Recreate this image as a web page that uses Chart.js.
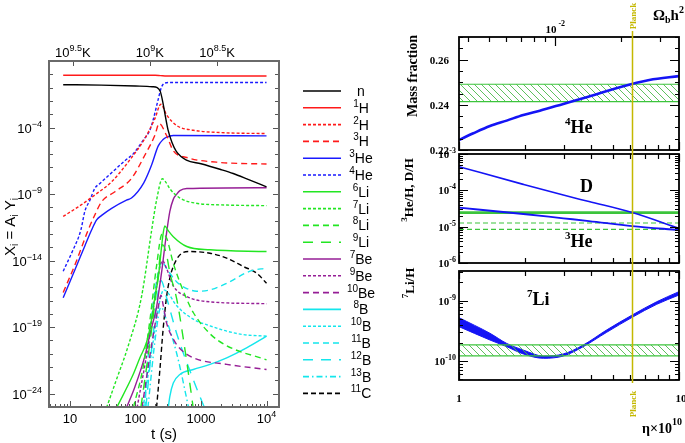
<!DOCTYPE html>
<html><head><meta charset="utf-8">
<title>BBN abundances</title>
<script src="https://cdn.jsdelivr.net/npm/chart.js@4/dist/chart.umd.min.js"></script>
<style>
html,body{margin:0;padding:0;background:#fff;overflow:hidden;}
#wrap{position:relative;width:685px;height:443px;background:#fff;}
#wrap canvas{position:absolute;top:0;}
</style></head>
<body><div id="wrap">
<canvas id="cL" width="390" height="443" style="left:0px;width:390px;height:443px"></canvas>
<canvas id="c1" width="295" height="443" style="left:390px;width:295px;height:443px"></canvas>
<canvas id="c2" width="295" height="443" style="left:390px;width:295px;height:443px"></canvas>
<canvas id="c3" width="295" height="443" style="left:390px;width:295px;height:443px"></canvas>
</div>
<script>
// ===== Left panel: time t (s) and mass fraction X_i =====
const nT   = [7.9, 30, 100, 180, 215, 240, 262, 285, 315, 360, 420, 600, 1000, 2000, 3100, 5000, 10000];
const nX   = [0.166, 0.155, 0.132, 0.117, 0.1, 0.05, 7.9e-3, 7.9e-4, 6.3e-5, 7.9e-6, 1.6e-6, 3.5e-7, 1.9e-7, 7e-8, 3.5e-8, 1.4e-8, 3.5e-9];
const h1T  = [7.9, 200, 240, 300, 10000];
const h1X  = [0.85, 0.84, 0.80, 0.75, 0.75];
const h2T  = [7.9, 13.4, 24, 43.3, 77.7, 139, 198, 245, 299, 427, 763, 2470, 10000];
const h2X  = [2.1e-11, 1.1e-10, 8.5e-10, 8.5e-9, 2.6e-7, 1.5e-5, 4.7e-4, 5.6e-3, 8.9e-4, 1.4e-4, 6.3e-5, 4.0e-5, 3.55e-5];
const h3T  = [7.9, 12.2, 19, 24, 30.5, 48.7, 87, 139, 198, 230, 299, 378, 607, 1720, 10000];
const h3X  = [4e-17, 6.3e-15, 2e-12, 2.7e-11, 2.7e-10, 1.5e-9, 1.5e-8, 8.3e-7, 2.6e-5, 2e-4, 2.5e-5, 1.8e-6, 5.6e-7, 2.5e-7, 1.8e-7];
const he3T = [7.9, 11.9, 16.9, 21.4, 25.6, 30.5, 43.3, 73, 87, 134, 177, 222, 264, 299, 378, 10000];
const he3X = [1.6e-17, 2e-15, 1.26e-13, 2e-12, 1.15e-11, 2.5e-11, 8.5e-11, 3.5e-10, 5e-10, 7e-9, 1.6e-7, 4e-6, 1.26e-5, 1.9e-5, 2.5e-5, 2.35e-5];
const he4T = [7.9, 10.7, 14.7, 16.9, 20.2, 24, 28.7, 43.3, 69, 93, 131, 166, 187, 222, 250, 281, 335, 10000];
const he4X = [1.6e-15, 4e-14, 2e-12, 5e-11, 3.5e-10, 2.7e-9, 6.3e-9, 4e-8, 3.2e-7, 1.1e-6, 1.1e-5, 6.3e-5, 4e-4, 1.26e-2, 0.11, 0.22, 0.245, 0.245];
const li6T = [51.7, 91.5, 117, 148.5, 177, 205, 222, 245, 264, 281, 311, 378, 607, 1370, 10000];
const li6X = [9e-26, 2.5e-23, 5e-22, 8e-21, 4e-19, 5e-17, 4e-16, 4e-14, 1e-12, 4e-12, 2e-12, 6.3e-13, 1.15e-13, 6.5e-14, 4.8e-14];
const li7T = [36.3, 50, 77.7, 124, 177, 210, 258, 290, 335, 477, 820, 2470, 10000];
const li7X = [9e-26, 8e-24, 4e-21, 2e-17, 2e-12, 3.5e-10, 1.4e-8, 8e-9, 2.5e-9, 5e-10, 2.1e-10, 1.5e-10, 1.35e-10];
const li8T = [93, 131, 166, 210, 255, 299, 378, 607, 763, 1370, 2470, 10000];
const li8X = [9e-26, 1e-22, 3.2e-19, 4e-15, 1e-12, 5e-13, 6.3e-15, 1.26e-17, 1.26e-18, 3.2e-20, 4e-21, 3.5e-22];
const li9T = [121, 166, 205, 260, 299, 335, 427, 550, 720, 806];
const li9X = [9e-26, 6.3e-21, 2.5e-17, 1.6e-13, 2.5e-14, 1.26e-15, 1.26e-17, 6.3e-21, 6.3e-25, 1e-26];
const be7T = [73, 98, 139, 169, 210, 222, 255, 281, 299, 335, 378, 427, 477, 607, 10000];
const be7X = [9e-26, 3.2e-24, 6.3e-22, 4e-20, 3.2e-18, 2e-17, 2.5e-15, 1.26e-13, 1.26e-12, 5e-11, 4e-10, 1e-9, 1.8e-9, 2.6e-9, 3e-9];
const be9T = [106, 155, 205, 258, 299, 378, 607, 1370, 10000];
const be9X = [9e-26, 3.2e-21, 5e-17, 1e-14, 2.5e-15, 1.26e-16, 2e-17, 8e-18, 5.8e-18];
const be10T = [126, 181, 229, 245, 264, 299, 378, 477, 763, 2470, 10000];
const be10X = [9e-26, 1e-20, 6.3e-18, 2.5e-17, 5e-18, 2e-19, 1.26e-20, 2.5e-21, 5e-22, 1.6e-22, 6.6e-23];
const b8T  = [316, 335, 378, 477, 763, 1370, 2470, 4970, 10000];
const b8X  = [8e-26, 6.3e-25, 6.3e-24, 2.8e-23, 6.6e-23, 1.6e-22, 5e-22, 2.8e-21, 2.1e-20];
const b10T = [131, 181, 236, 270, 299, 427, 763, 1370, 2470, 4430, 10000];
const b10X = [9e-26, 3.2e-21, 1e-17, 6.3e-17, 5e-17, 4e-18, 4e-19, 1.26e-19, 5e-20, 2.75e-20, 2.1e-20];
const b11T = [139, 166, 211, 255, 299, 427, 607, 860, 1370, 2470, 5600, 10000];
const b11X = [9e-26, 3.2e-20, 3.2e-16, 8e-15, 2.5e-15, 2.5e-16, 8e-17, 5e-17, 6.3e-17, 2e-16, 1.6e-15, 2.75e-15];
const b12T = [144, 192, 245, 299, 427, 770, 1230];
const b12X = [9e-26, 1e-19, 3.2e-16, 1.6e-17, 3.2e-20, 1e-23, 3.2e-26];
const b13T = [155, 205, 245, 299, 427, 677];
const b13X = [9e-26, 3.2e-20, 3.2e-18, 3.2e-19, 1e-21, 3.2e-26];
const c11T = [210, 236, 264, 299, 335, 378, 477, 677, 1370, 2470, 4430, 7060, 10000];
const c11X = [9e-26, 6.3e-23, 6.3e-20, 2e-17, 5e-16, 3.6e-15, 2.7e-14, 4.8e-14, 3.6e-14, 1.55e-14, 3.6e-15, 1.15e-15, 2e-16];

// axis tick labels (left panel)
const yLabelExp   = [-4, -9, -14, -19, -24];
const xLabelVals  = [10, 100, 1000, 10000];
const tempTickT   = [11.1, 166, 1760];
const tempTickExp = ['9.5', '9', '8.5'];

// ===== Right panels: eta x 1e10 =====
const etaHe  = [1, 1.162, 1.383, 1.647, 1.96, 2.33, 2.98, 3.87, 5.33, 7.33, 10];
const ypHe4  = [0.2244, 0.2274, 0.2306, 0.2330, 0.2355, 0.2374, 0.2404, 0.2436, 0.2477, 0.2510, 0.2527];
const ypObs  = [0.2414, 0.2491];
const etaDH  = [1, 1.96, 2.98, 3.9, 6.13, 10];
const dOverH = [4.48e-4, 1.46e-4, 7.4e-5, 4.9e-5, 2.45e-5, 9e-6];
const he3OverH = [3.34e-5, 2.23e-5, 1.7e-5, 1.43e-5, 1.04e-5, 8.1e-6];
const dhObs  = 2.43e-5;
const he3Obs = [8.4e-6, 1.26e-5];
const etaLi  = [1, 1.383, 1.647, 1.96, 2.42, 2.98, 3.67, 4.69, 6.13, 7.92, 10];
const liUpper = [5.23e-10, 2.88e-10, 1.96e-10, 1.52e-10, 1.21e-10, 1.31e-10, 1.84e-10, 3.27e-10, 5.79e-10, 9.6e-10, 1.41e-9];
const liLower = [3.71e-10, 2.23e-10, 1.73e-10, 1.31e-10, 1.11e-10, 1.21e-10, 1.73e-10, 2.99e-10, 5.3e-10, 8.7e-10, 1.24e-9];
const liObs  = [1.22e-10, 1.85e-10];
const planckEta = 6.1;

// ===== styles =====
const SANS = "'Liberation Sans', Arial, sans-serif";
const SERIF = "'Liberation Serif', 'Times New Roman', serif";
const RED = '#ff1a1a', BLUE = '#1a1aff', GREEN = '#22e622', PURPLE = '#961e96', CYAN = '#14e6ec', BLACK = '#000000';
const SOLID = [], FINE = [3, 2], MED = [6, 4], LONG = [10, 8], DASHDOT = [6, 3, 1.5, 3], CDASH = [5, 3];
const BLUE2 = '#1414f5', GBAND = '#3cc43c', OLIVE = '#c4b800';

const series = [
  {base:'n',  sup:'',   t:nT,   v:nX,   color:BLACK,  dash:SOLID},
  {base:'H',  sup:'1',  t:h1T,  v:h1X,  color:RED,    dash:SOLID},
  {base:'H',  sup:'2',  t:h2T,  v:h2X,  color:RED,    dash:FINE},
  {base:'H',  sup:'3',  t:h3T,  v:h3X,  color:RED,    dash:MED},
  {base:'He', sup:'3',  t:he3T, v:he3X, color:BLUE,   dash:SOLID},
  {base:'He', sup:'4',  t:he4T, v:he4X, color:BLUE,   dash:FINE},
  {base:'Li', sup:'6',  t:li6T, v:li6X, color:GREEN,  dash:SOLID},
  {base:'Li', sup:'7',  t:li7T, v:li7X, color:GREEN,  dash:FINE},
  {base:'Li', sup:'8',  t:li8T, v:li8X, color:GREEN,  dash:MED},
  {base:'Li', sup:'9',  t:li9T, v:li9X, color:GREEN,  dash:LONG},
  {base:'Be', sup:'7',  t:be7T, v:be7X, color:PURPLE, dash:SOLID},
  {base:'Be', sup:'9',  t:be9T, v:be9X, color:PURPLE, dash:FINE},
  {base:'Be', sup:'10', t:be10T,v:be10X,color:PURPLE, dash:MED},
  {base:'B',  sup:'8',  t:b8T,  v:b8X,  color:CYAN,   dash:SOLID},
  {base:'B',  sup:'10', t:b10T, v:b10X, color:CYAN,   dash:FINE},
  {base:'B',  sup:'11', t:b11T, v:b11X, color:CYAN,   dash:MED},
  {base:'B',  sup:'12', t:b12T, v:b12X, color:CYAN,   dash:LONG},
  {base:'B',  sup:'13', t:b13T, v:b13X, color:CYAN,   dash:DASHDOT},
  {base:'C',  sup:'11', t:c11T, v:c11X, color:BLACK,  dash:CDASH}
];

// ===== helpers =====
function rich(ctx, x, y, parts, align, color) {
  ctx.save();
  ctx.fillStyle = color || '#000'; ctx.textBaseline = 'alphabetic'; ctx.textAlign = 'left';
  let w = 0;
  parts.forEach(p => { ctx.font = p.f; w += ctx.measureText(p.t).width + (p.g || 0); });
  let cx = align === 'center' ? x - w / 2 : (align === 'right' ? x - w : x);
  parts.forEach(p => { ctx.font = p.f; ctx.fillText(p.t, cx, y + (p.dy || 0)); cx += ctx.measureText(p.t).width + (p.g || 0); });
  ctx.restore();
}
function richRot(ctx, cx, cy, parts, color) {
  ctx.save(); ctx.translate(cx, cy); ctx.rotate(-Math.PI / 2);
  rich(ctx, 0, 0, parts, 'center', color); ctx.restore();
}
function hatch(color) {
  const c = document.createElement('canvas'); c.width = 7; c.height = 7;
  const g = c.getContext('2d'); g.strokeStyle = color; g.lineWidth = 0.9;
  g.beginPath(); g.moveTo(-1, -1); g.lineTo(8, 8); g.moveTo(-1, 6); g.lineTo(1, 8); g.moveTo(6, -1); g.lineTo(8, 1); g.stroke();
  return g.createPattern(c, 'repeat');
}
function pts(xs, ys) { return xs.map((x, i) => ({x: x, y: ys[i]})); }
function hline(x0, x1, y) { return [{x: x0, y: y}, {x: x1, y: y}]; }

// ===== left chart =====
const leftDecor = {
  id: 'leftDecor',
  afterDraw(chart) {
    const ctx = chart.ctx, a = chart.chartArea, xs = chart.scales.x, ys = chart.scales.y;
    ctx.save();
    ctx.strokeStyle = '#555'; ctx.lineWidth = 1; ctx.beginPath();
    for (let e = -25; e <= 1; e++) {
      const py = Math.round(ys.getPixelForValue(Math.pow(10, e))) + 0.5;
      const len = yLabelExp.includes(e) ? 6 : 4;
      ctx.moveTo(a.left, py); ctx.lineTo(a.left + len, py);
      ctx.moveTo(a.right, py); ctx.lineTo(a.right - len, py);
    }
    for (let d = 0; d <= 4; d++) for (let m = 1; m < 10; m++) {
      const v = m * Math.pow(10, d);
      if (v < xs.min || v > xs.max) continue;
      const px = Math.round(xs.getPixelForValue(v)) + 0.5;
      const len = m === 1 ? 6 : 3;
      ctx.moveTo(px, a.bottom); ctx.lineTo(px, a.bottom - len);
    }
    tempTickT.forEach(t => { const px = Math.round(xs.getPixelForValue(t)) + 0.5; ctx.moveTo(px, a.top); ctx.lineTo(px, a.top + 5); });
    ctx.stroke();
    ctx.strokeStyle = '#6a6a6a'; ctx.lineWidth = 2;
    ctx.strokeRect(a.left, a.top, a.right - a.left, a.bottom - a.top);
    // y labels
    yLabelExp.forEach(e => {
      const py = ys.getPixelForValue(Math.pow(10, e));
      rich(ctx, 42, py + 5, [{t:'10', f:'13px ' + SANS}, {t:'\u2212' + (-e), f:'9px ' + SANS, dy:-6}], 'right');
    });
    // x labels
    xLabelVals.forEach(v => {
      const px = xs.getPixelForValue(v);
      const parts = v === 10000 ? [{t:'10', f:'13px ' + SANS}, {t:'4', f:'9px ' + SANS, dy:-6}] : [{t:String(v), f:'13px ' + SANS}];
      rich(ctx, px, 423, parts, 'center');
    });
    // top temperature labels
    tempTickT.forEach((t, i) => {
      const px = xs.getPixelForValue(t);
      rich(ctx, px, 57, [{t:'10', f:'13px ' + SANS}, {t:tempTickExp[i], f:'9px ' + SANS, dy:-6}, {t:'K', f:'13px ' + SANS}], 'center');
    });
    rich(ctx, 164, 439, [{t:'t (s)', f:'15px ' + SANS}], 'center');
    richRot(ctx, 15, 227, [{t:'X', f:'15px ' + SANS}, {t:'i', f:'10px ' + SANS, dy:3}, {t:' = A', f:'15px ' + SANS}, {t:'i', f:'10px ' + SANS, dy:3}, {t:' Y', f:'15px ' + SANS}, {t:'i', f:'10px ' + SANS, dy:3}]);
    // legend
    series.forEach((s, i) => {
      const y = 91 + i * 16.8;
      ctx.save(); ctx.strokeStyle = s.color; ctx.lineWidth = 1.6; ctx.setLineDash(s.dash);
      ctx.beginPath(); ctx.moveTo(303, y); ctx.lineTo(341, y); ctx.stroke(); ctx.restore();
      const parts = s.sup ? [{t:s.sup, f:'10px ' + SANS, dy:-6}, {t:s.base, f:'14px ' + SANS}] : [{t:s.base, f:'14px ' + SANS}];
      rich(ctx, 361, y + 5, parts, 'center');
    });
    ctx.restore();
  }
};

new Chart(document.getElementById('cL'), {
  type: 'line',
  data: { datasets: series.map(s => ({
    label: s.sup + s.base, data: pts(s.t, s.v), borderColor: s.color, borderDash: s.dash,
    borderWidth: 1.4, pointRadius: 0, fill: false, cubicInterpolationMode: 'monotone'
  })) },
  options: {
    responsive: false, animation: false, devicePixelRatio: 1,
    layout: { padding: { left: 49, right: 111, top: 61, bottom: 36 } },
    plugins: { legend: { display: false }, tooltip: { enabled: false } },
    scales: {
      x: { type: 'logarithmic', min: 4.8, max: 15500, display: false },
      y: { type: 'logarithmic', min: 1e-25, max: 10, display: false }
    }
  },
  plugins: [leftDecor]
});

// ===== right panels =====
const RX = px => px - 390;
const etaTicks = [1, 2, 3, 4, 5, 6, 7, 8, 9, 10];
function panelFrame(chart, opt) {
  const ctx = chart.ctx, a = chart.chartArea, xs = chart.scales.x, ys = chart.scales.y;
  ctx.save(); ctx.strokeStyle = '#000'; ctx.lineWidth = 1.2; ctx.beginPath();
  etaTicks.forEach(v => {
    const px = Math.round(xs.getPixelForValue(v)) + 0.5; const len = (v === 1 || v === 10) ? 8 : 5;
    ctx.moveTo(px, a.bottom); ctx.lineTo(px, a.bottom - len);
    if (opt.topEta) { ctx.moveTo(px, a.top); ctx.lineTo(px, a.top + len); }
  });
  if (opt.log) {
    const e0 = Math.floor(Math.log10(ys.min)), e1 = Math.ceil(Math.log10(ys.max));
    for (let e = e0; e <= e1; e++) for (let m = 1; m < 10; m++) {
      const v = m * Math.pow(10, e); if (v < ys.min * 0.999 || v > ys.max * 1.001) continue;
      const py = Math.round(ys.getPixelForValue(v)) + 0.5; const len = m === 1 ? 9 : 4;
      ctx.moveTo(a.left, py); ctx.lineTo(a.left + len, py); ctx.moveTo(a.right, py); ctx.lineTo(a.right - len, py);
    }
  } else {
    for (let k = 44; k <= 54; k++) {
      const v = k * 0.005; const py = Math.round(ys.getPixelForValue(v)) + 0.5; const len = k % 4 === 0 ? 9 : 4;
      ctx.moveTo(a.left, py); ctx.lineTo(a.left + len, py); ctx.moveTo(a.right, py); ctx.lineTo(a.right - len, py);
    }
  }
  if (opt.omega) {
    const x2 = chart.scales.x2;
    [0.004, 0.005, 0.006, 0.007, 0.008, 0.009, 0.01, 0.02, 0.03].forEach(v => {
      const px = Math.round(x2.getPixelForValue(v)) + 0.5; const len = v === 0.01 ? 9 : 5;
      ctx.moveTo(px, a.top); ctx.lineTo(px, a.top + len);
    });
  }
  ctx.stroke();
  ctx.lineWidth = 1.8; ctx.strokeRect(a.left, a.top, a.right - a.left, a.bottom - a.top);
  ctx.restore();
}
const B11 = 'bold 11px ' + SERIF, B8 = 'bold 8px ' + SERIF;
function expLabel(ctx, y, e) {
  rich(ctx, RX(456), y + 4, [{t:'10', f:B11}, {t:'-' + (-e), f:B8, dy:-5, g:0}], 'right');
}
function baseOpts(padTop, padBottom, yScale, extraScales) {
  const sc = Object.assign({ x: { type: 'logarithmic', min: 1, max: 10, display: false }, y: yScale }, extraScales || {});
  return {
    responsive: false, animation: false, devicePixelRatio: 1,
    layout: { padding: { left: 69, right: 6, top: padTop, bottom: padBottom } },
    plugins: { legend: { display: false }, tooltip: { enabled: false } },
    elements: { point: { radius: 0 } },
    scales: sc
  };
}
const hatchFill = hatch('#4cba4c');

// panel 1: 4He
new Chart(document.getElementById('c1'), {
  type: 'line',
  data: { datasets: [
    { data: pts(etaHe, ypHe4), borderColor: BLUE2, borderWidth: 2.6, fill: false, cubicInterpolationMode: 'monotone', xAxisID: 'x', yAxisID: 'y' },
    { data: hline(1, 10, ypObs[0]), borderColor: GBAND, borderWidth: 1.2, fill: false, xAxisID: 'x', yAxisID: 'y' },
    { data: hline(1, 10, ypObs[1]), borderColor: GBAND, borderWidth: 1.2, fill: '-1', backgroundColor: hatchFill, xAxisID: 'x', yAxisID: 'y' }
  ] },
  options: baseOpts(37, 293, { type: 'linear', min: 0.22, max: 0.27, display: false },
    { x2: { type: 'logarithmic', position: 'top', min: 1 / 273.9, max: 10 / 273.9, display: false } }),
  plugins: [{ id: 'p1', afterDraw(chart) {
    panelFrame(chart, { log: false, omega: true });
    const ctx = chart.ctx, ys = chart.scales.y, x2 = chart.scales.x2;
    [0.26, 0.24, 0.22].forEach(v => rich(ctx, RX(449), ys.getPixelForValue(v) + 4, [{t:v.toFixed(2), f:B11}], 'right'));
    const px = x2.getPixelForValue(0.01);
    rich(ctx, px, 33, [{t:'10', f:B11, g:2}, {t:'-2', f:B8, dy:-7}], 'center');
    richRot(ctx, RX(417), 76, [{t:'Mass fraction', f:'bold 14px ' + SERIF}]);
    rich(ctx, RX(565), 133, [{t:'4', f:'bold 11px ' + SERIF, dy:-8}, {t:'He', f:'bold 18px ' + SERIF}], 'left');
    rich(ctx, RX(653), 20, [{t:'\u03A9', f:'bold 15px ' + SERIF}, {t:'b', f:'bold 10px ' + SERIF, dy:3}, {t:'h', f:'bold 15px ' + SERIF}, {t:'2', f:'bold 10px ' + SERIF, dy:-7}], 'left');
  } }]
});

// panel 2: D/H and 3He/H
new Chart(document.getElementById('c2'), {
  type: 'line',
  data: { datasets: [
    { data: pts(etaDH, dOverH), borderColor: BLUE2, borderWidth: 1.6, fill: false, cubicInterpolationMode: 'monotone' },
    { data: pts(etaDH, he3OverH), borderColor: BLUE2, borderWidth: 1.8, fill: false, cubicInterpolationMode: 'monotone' },
    { data: hline(1, 10, dhObs), borderColor: GBAND, borderWidth: 2.6, fill: false },
    { data: hline(1, 10, he3Obs[0]), borderColor: GBAND, borderWidth: 1.1, borderDash: [5, 3], fill: false },
    { data: hline(1, 10, he3Obs[1]), borderColor: GBAND, borderWidth: 1.1, borderDash: [5, 3], fill: false }
  ] },
  options: baseOpts(154, 180, { type: 'logarithmic', min: 1e-6, max: 1e-3, display: false }),
  plugins: [{ id: 'p2', afterDraw(chart) {
    panelFrame(chart, { log: true, topEta: true });
    const ctx = chart.ctx, ys = chart.scales.y;
    [-3, -4, -5, -6].forEach(e => expLabel(ctx, ys.getPixelForValue(Math.pow(10, e)), e));
    richRot(ctx, RX(413), 190, [{t:'3', f:'bold 9px ' + SERIF, dy:-6}, {t:'He/H, D/H', f:'bold 13px ' + SERIF}]);
    rich(ctx, RX(580), 192, [{t:'D', f:'bold 18px ' + SERIF}], 'left');
    rich(ctx, RX(565), 247, [{t:'3', f:'bold 11px ' + SERIF, dy:-8}, {t:'He', f:'bold 18px ' + SERIF}], 'left');
  } }]
});

// panel 3: 7Li/H
new Chart(document.getElementById('c3'), {
  type: 'line',
  data: { datasets: [
    { data: hline(1, 10, liObs[0]), borderColor: GBAND, borderWidth: 1.2, fill: false },
    { data: hline(1, 10, liObs[1]), borderColor: GBAND, borderWidth: 1.2, fill: '-1', backgroundColor: hatchFill },
    { data: pts(etaLi, liLower), borderColor: BLUE2, borderWidth: 1, fill: false, cubicInterpolationMode: 'monotone' },
    { data: pts(etaLi, liUpper), borderColor: BLUE2, borderWidth: 1, fill: '-1', backgroundColor: BLUE2, cubicInterpolationMode: 'monotone' }
  ] },
  options: baseOpts(271, 63, { type: 'logarithmic', min: 4.85e-11, max: 3.1e-9, display: false }),
  plugins: [{ id: 'p3', afterDraw(chart) {
    panelFrame(chart, { log: true, topEta: true });
    const ctx = chart.ctx, ys = chart.scales.y, xs = chart.scales.x;
    expLabel(ctx, ys.getPixelForValue(1e-9), -9);
    expLabel(ctx, ys.getPixelForValue(1e-10), -10);
    rich(ctx, xs.getPixelForValue(1), 402, [{t:'1', f:B11}], 'center');
    rich(ctx, xs.getPixelForValue(10) + 2, 402, [{t:'10', f:B11}], 'center');
    richRot(ctx, RX(414), 283, [{t:'7', f:'bold 9px ' + SERIF, dy:-6}, {t:'Li/H', f:'bold 13px ' + SERIF}]);
    rich(ctx, RX(527), 305, [{t:'7', f:'bold 11px ' + SERIF, dy:-8}, {t:'Li', f:'bold 18px ' + SERIF}], 'left');
    rich(ctx, RX(672), 433, [{t:'\u03B7\u00D710', f:'bold 14px ' + SERIF}], 'right');
    rich(ctx, RX(672), 425, [{t:'10', f:'bold 10px ' + SERIF}], 'left');
    // Planck line across all panels
    const px = Math.round(xs.getPixelForValue(planckEta)) + 0.5;
    ctx.save(); ctx.strokeStyle = OLIVE; ctx.lineWidth = 1.5;
    ctx.beginPath(); ctx.moveTo(px, 31); ctx.lineTo(px, 383); ctx.stroke(); ctx.restore();
    richRot(ctx, px + 3.5, 16, [{t:'Planck', f:'bold 9px ' + SERIF}], OLIVE);
    richRot(ctx, px + 3.5, 404, [{t:'Planck', f:'bold 9px ' + SERIF}], OLIVE);
  } }]
});
</script>
</body></html>
